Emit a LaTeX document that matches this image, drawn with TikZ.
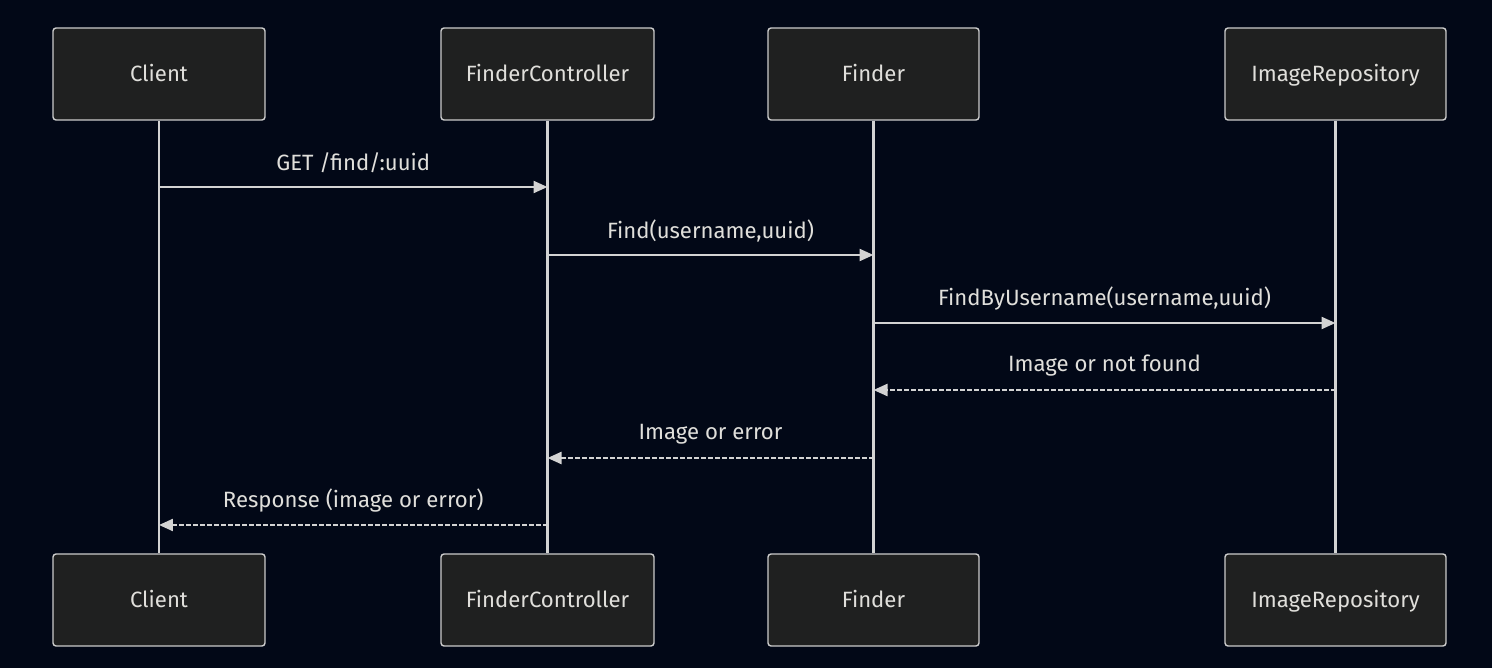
\documentclass[tikz,border=0pt]{standalone}
\usepackage{fontspec}
\setmainfont{Fira Sans}
\usetikzlibrary{arrows.meta}

\definecolor{bgnavy}{HTML}{020817}
\definecolor{boxfill}{HTML}{1F2020}
\definecolor{boxline}{HTML}{CCCCCC}
\definecolor{inktext}{HTML}{E0DFDB}
\definecolor{wire}{HTML}{D3D3D3}

\tikzset{
  actor/.style={draw=boxline, fill=boxfill, rounded corners=0.06cm, line width=0.8pt,
    minimum height=1.84cm, inner sep=0pt, text height=1.85ex, text depth=0.2ex,
    text=inktext, font=\fontsize{12.6}{15}\selectfont},
  lifeline/.style={draw=wire, line width=1.4pt},
  msg/.style={draw=wire, line width=1.3pt, -{Triangle[length=0.28cm,width=0.24cm]}},
  reply/.style={msg, dash pattern=on 0.09cm off 0.05cm},
  lbl/.style={text=inktext, font=\fontsize{12.6}{15}\selectfont}
}

\begin{document}
\begin{tikzpicture}[x=0.02cm, y=-0.02cm]
        \fill[bgnavy] (0,0) rectangle (1492,668);

        % Actores
        \foreach \name/\x/\w/\txt in {
            client/159/4.24/Client,
            ctrl/547.5/4.26/FinderController,
            finder/873.5/4.22/Finder,
            repo/1335.5/4.42/ImageRepository
            } {
            \node[actor, minimum width=\w cm] (\name-top) at (\x, 74) {\txt};
            \node[actor, minimum width=\w cm] (\name-bot) at (\x, 600) {\txt};
            \draw[lifeline] (\name-top) -- (\name-bot);
        }

        % Mensajes
        \foreach \i/\from/\to/\y/\sty/\txt in {
            1/client/ctrl/187/msg/{GET /find/:uuid},
            2/ctrl/finder/255/msg/{Find(username,uuid)},
            3/finder/repo/323/msg/{FindByUsername(username,uuid)},
            4/repo/finder/390/reply/{Image or not found},
            5/finder/ctrl/458/reply/{Image or error},
            6/ctrl/client/525/reply/{Response (image or error)}
            } {
            \coordinate (m\i-a) at (\from-top |- 0, \y);
            \coordinate (m\i-b) at (\to-top |- 0, \y);
            \draw[\sty] (m\i-a) -- node[lbl, yshift=0.48cm] {\txt} (m\i-b);
        }
    \end{tikzpicture}
\end{document}
